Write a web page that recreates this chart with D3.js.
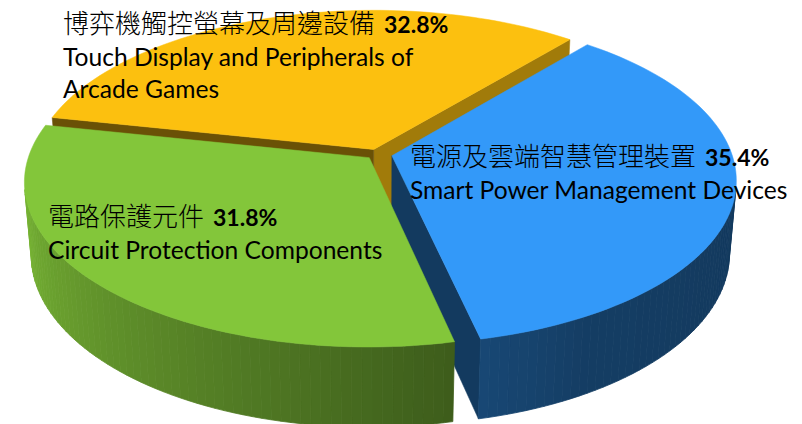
<!DOCTYPE html>
<html>
<head>
<meta charset="utf-8">
<script src="https://cdn.jsdelivr.net/npm/d3@7"></script>
<style>
  body { margin: 0; background: #fff; }
  svg { display: block; }
  .zh { font-family: "Noto Sans CJK TC", "Noto Sans CJK SC", sans-serif; font-weight: 300; }
  .en { font-family: Lato, "Open Sans", sans-serif; }
  .pct { font-family: Lato, "Open Sans", sans-serif; font-weight: bold; }
</style>
</head>
<body>
<div id="chart"></div>
<script>
// data
const categoriesZh = ['電源及雲端智慧管理裝置', '博弈機觸控螢幕及周邊設備', '電路保護元件'];
const categoriesEn = [
  ['Smart Power Management Devices'],
  ['Touch Display and Peripherals of', 'Arcade Games'],
  ['Circuit Protection Components']
];
const shares = [35.4, 32.8, 31.8];

// styles / layout
const sliceColors = ['#3399f9', '#fcc00f', '#83c63a'];
const explode = [0.045, 0.03, 0.032];
const labelAnchors = [[410, 166], [63, 33], [48, 226]];

const width = 802, height = 424;
const cx = 377, cy = 154;
const tilt = 28.2 * Math.PI / 180;
const dist = 6.06, focal = 2060, thick = 0.245;
const rad = (d) => d * Math.PI / 180;
const deg = (r) => ((r * 180 / Math.PI) % 360 + 360) % 360;

function project(X, Y, Z) {
  const u = Z * Math.sin(tilt) - Y * Math.cos(tilt);
  const w = dist - Z * Math.cos(tilt) - Y * Math.sin(tilt);
  return [cx + focal * X / w, cy + focal * u / w];
}

// slices run counter-clockwise from the lower right edge of the first one
const firstEdge = 40 + 360 * shares[0] / d3.sum(shares);
const pie = d3.pie().sort(null).value((d) => d)
  .startAngle(rad(firstEdge)).endAngle(rad(firstEdge - 360));

const wallShade = d3.scaleLinear()
  .domain([90, 150, 168, 265]).range([0.37, 0.40, 0.47, 0.93]).clamp(true);
const faceShade = d3.scaleLinear()
  .domain([130, 192, 258]).range([0.64, 0.42, 0.38]).clamp(true);
const shade = (base, k) => d3.interpolateRgb('#000', base)(k);

const svg = d3.select('#chart').append('svg')
  .attr('width', width).attr('height', height);

const slices = pie(shares).map((d, i) => {
  const lo = Math.min(d.startAngle, d.endAngle);
  const hi = Math.max(d.startAngle, d.endAngle);
  const mid = (lo + hi) / 2;
  return {
    i, lo, hi, mid,
    ox: explode[i] * Math.sin(mid),
    oz: -explode[i] * Math.cos(mid)
  };
});

function pt(s, a, r, y) {
  return project(s.ox + r * Math.sin(a), y, s.oz - r * Math.cos(a));
}

function arcAngles(a0, a1, step) {
  const out = d3.range(a0, a1, step);
  out.push(a1);
  return out;
}

// back to front
const order = slices.slice().sort((a, b) => (-Math.cos(a.mid)) - (-Math.cos(b.mid)));

const line = d3.line();

order.forEach((s) => {
  const g = svg.append('g').attr('class', 'slice');
  const base = sliceColors[s.i];

  // radial faces
  const faces = [
    { a: s.hi, end: true },
    { a: s.lo, end: false }
  ];
  faces.forEach((f) => {
    const ct = pt(s, f.a, 0, 0), cb = pt(s, f.a, 0, -thick);
    const pt0 = pt(s, f.a, 1, 0), pb = pt(s, f.a, 1, -thick);
    const poly = f.end ? [pt0, ct, cb, pb] : [ct, pt0, pb, cb];
    if (d3.polygonArea(poly) <= 0) return;
    const normal = deg(f.a + (f.end ? Math.PI / 2 : -Math.PI / 2));
    const c = shade(base, faceShade(normal));
    g.append('path')
      .attr('d', line(poly) + 'Z')
      .attr('fill', c).attr('stroke', c).attr('stroke-width', 0.5);
  });

  // outer wall
  const angles = arcAngles(s.lo, s.hi, rad(1.5));
  const segs = d3.pairs(angles).map(([a0, a1]) => {
    const poly = [pt(s, a0, 1, 0), pt(s, a1, 1, 0), pt(s, a1, 1, -thick), pt(s, a0, 1, -thick)];
    return { poly, a: deg((a0 + a1) / 2) };
  }).filter((d) => d3.polygonArea(d.poly) > 0);

  g.selectAll('path.wall').data(segs).enter().append('path')
    .attr('class', 'wall')
    .attr('d', (d) => line(d.poly) + 'Z')
    .attr('fill', (d) => shade(base, wallShade(d.a)))
    .attr('stroke', (d) => shade(base, wallShade(d.a)))
    .attr('stroke-width', 0.8)
    .attr('stroke-linejoin', 'round');

  // top face
  const top = [pt(s, s.lo, 0, 0)].concat(angles.map((a) => pt(s, a, 1, 0)));
  g.append('path')
    .attr('d', line(top) + 'Z')
    .attr('fill', base).attr('stroke', base).attr('stroke-width', 0.5);
});

// labels
const labels = svg.append('g').attr('class', 'labels');
slices.forEach((s) => {
  const [lx, ly] = labelAnchors[s.i];
  const t = labels.append('text').attr('x', lx).attr('y', ly).attr('fill', '#000');
  t.append('tspan').attr('class', 'zh').attr('font-size', 26).text(categoriesZh[s.i]);
  t.append('tspan').attr('class', 'pct').attr('font-size', 23).attr('dx', 9)
    .text(`${shares[s.i].toFixed(1)}%`);
  categoriesEn[s.i].forEach((ln, j) => {
    labels.append('text').attr('class', 'en')
      .attr('x', lx).attr('y', ly + 33 + j * 32)
      .attr('font-size', 24.6).attr('fill', '#000')
      .text(ln);
  });
});
</script>
</body>
</html>
